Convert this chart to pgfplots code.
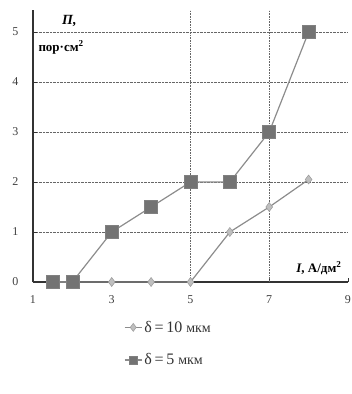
\documentclass[border=0pt]{standalone}
\usepackage{fontspec}
\setmainfont{Liberation Serif}
\usepackage{pgfplots}
\pgfplotsset{compat=1.18}
\begin{document}
\begin{tikzpicture}
\useasboundingbox (-33pt,-112pt) rectangle (319pt,282pt);
\begin{axis}[
  at={(0pt,0pt)}, anchor=south west,
  scale only axis, width=315pt, height=272pt,
  xmin=1, xmax=9, ymin=0, ymax=5.44,
  axis x line*=bottom, axis y line*=left,
  axis line style={-, black!80, line width=1.2pt},
  xtick={1,3,5,7,9}, ytick={0,1,2,3,4,5},
  tick style={black!80, line width=0.8pt},
  major tick length=4pt,
  tick pos=left,
  ymajorgrids, grid style={densely dotted, black!60, line width=0.6pt},
  tick label style={font=\fontsize{12}{13}\selectfont, text=black!75},
  yticklabel style={xshift=-11pt},
  xticklabel style={yshift=-10pt},
  /pgf/number format/assume math mode=true,
  clip=false,
  legend style={at={(0.43,-0.128)}, anchor=north, draw=none, fill=none,
    font=\fontsize{16}{17}\selectfont, row sep=16pt, legend cell align=left,
    text=black!80},
  legend image post style={mark size=4pt},
]
\draw[densely dotted, black!60, line width=0.6pt] (axis cs:5,0) -- (axis cs:5,5.44);
\draw[densely dotted, black!60, line width=0.6pt] (axis cs:7,0) -- (axis cs:7,5.44);
\addplot[color=black!45, line width=1.2pt, mark=diamond*, mark size=4.5pt,
  mark options={fill=black!25, draw=black!40, line width=0.5pt}]
  coordinates {(1.5,0) (2,0) (3,0) (4,0) (5,0) (6,1) (7,1.5) (8,2.05)};
\addlegendentry{δ\,=\,10 \fontsize{14}{15}\selectfont мкм}
\addplot[color=black!45, line width=1.2pt, mark=square*, mark size=6.5pt,
  mark options={fill=black!55, draw=black!50, line width=0.5pt}]
  coordinates {(1.5,0) (2,0) (3,1) (4,1.5) (5,2) (6,2) (7,3) (8,5)};
\addlegendentry{δ\,=\,5 \fontsize{14}{15}\selectfont мкм}
\node[anchor=base west, font=\bfseries\itshape\fontsize{14}{15}\selectfont] at (axis cs:1.65,5.15) {П,};
\node[anchor=base west, font=\bfseries\fontsize{13}{14}\selectfont] at (axis cs:1.05,4.62) {пор·см\textsuperscript{2}};
\node[anchor=base west, font=\bfseries\fontsize{13}{14}\selectfont] at (axis cs:7.6,0.2) {\textit{I}, А/дм\textsuperscript{2}};
\end{axis}
\end{tikzpicture}
\end{document}
